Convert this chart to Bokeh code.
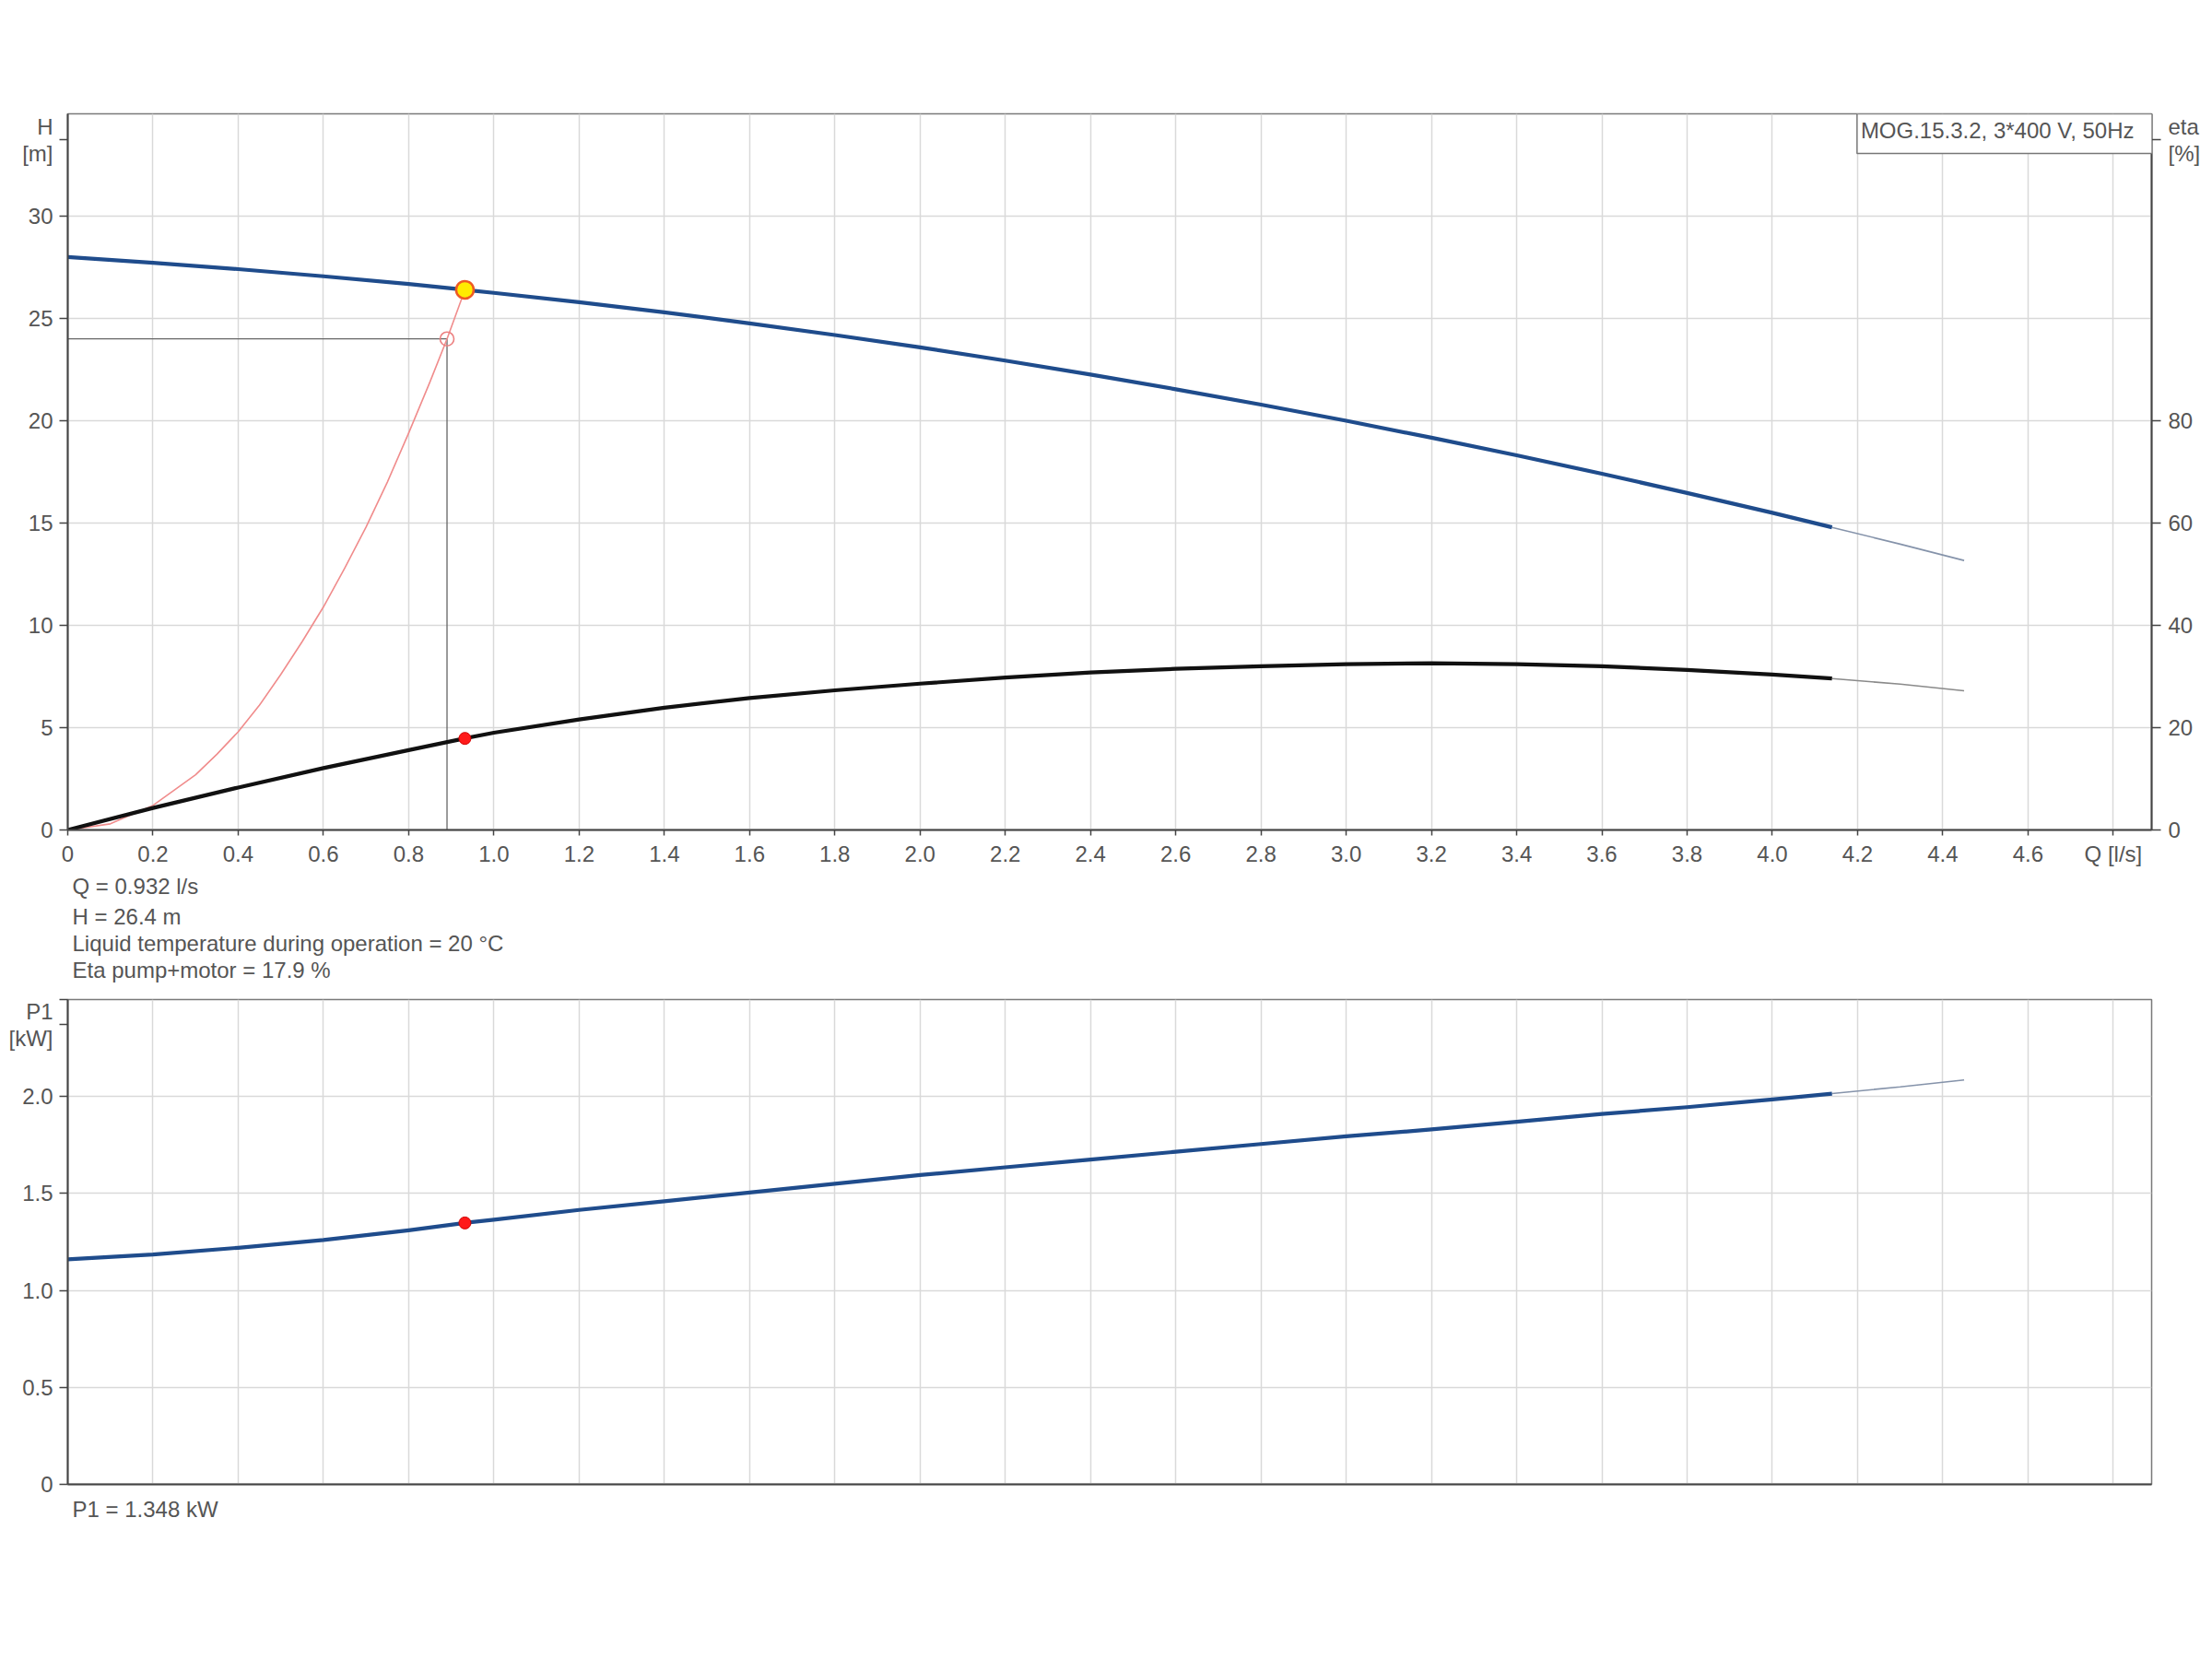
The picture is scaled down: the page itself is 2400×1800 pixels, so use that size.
from bokeh.plotting import figure
from bokeh.models import Range1d, LinearAxis, FixedTicker, Label, Title
from bokeh.layouts import column
from bokeh.embed import file_html
from bokeh.resources import INLINE

# ---------------- data ----------------
q_ticks = [0, 0.2, 0.4, 0.6, 0.8, 1.0, 1.2, 1.4, 1.6, 1.8, 2.0, 2.2, 2.4, 2.6,
           2.8, 3.0, 3.2, 3.4, 3.6, 3.8, 4.0, 4.2, 4.4, 4.6, 4.8]
q_tick_labels = ["0", "0.2", "0.4", "0.6", "0.8", "1.0", "1.2", "1.4", "1.6", "1.8",
                 "2.0", "2.2", "2.4", "2.6", "2.8", "3.0", "3.2", "3.4", "3.6", "3.8",
                 "4.0", "4.2", "4.4", "4.6", "Q [l/s]"]
h_ticks = [0, 5, 10, 15, 20, 25, 30]
h_axis_ticks = [0, 5, 10, 15, 20, 25, 30, 33.72]
h_axis_labels = ["0", "5", "10", "15", "20", "25", "30", "H\n[m]"]
eta_ticks = [0, 20, 40, 60, 80, 134.9]
eta_labels = ["0", "20", "40", "60", "80", "eta\n[%]"]
p1_grid_ticks = [0, 0.5, 1.0, 1.5, 2.0]
p1_ticks = [0, 0.5, 1.0, 1.5, 2.0, 2.37, 2.5]
p1_tick_labels = ["0", "0.5", "1.0", "1.5", "2.0", "P1\n[kW]", ""]

# pump curve (Q in l/s), valid range
q_curve = [0, 0.2, 0.4, 0.6, 0.8, 0.932, 1.0, 1.2, 1.4, 1.6, 1.8, 2.0, 2.2, 2.4,
           2.6, 2.8, 3.0, 3.2, 3.4, 3.6, 3.8, 4.0, 4.14]
h_curve = [28.0, 27.72, 27.41, 27.06, 26.68, 26.4, 26.25, 25.79, 25.3, 24.76, 24.19,
           23.59, 22.94, 22.26, 21.54, 20.79, 20.0, 19.17, 18.31, 17.41, 16.47, 15.5, 14.79]
eta_curve = [0, 4.3, 8.3, 12.1, 15.6, 17.9, 19.0, 21.6, 23.9, 25.8, 27.3, 28.6, 29.8,
             30.8, 31.5, 32.0, 32.4, 32.6, 32.4, 32.0, 31.3, 30.4, 29.6]
p1_curve = [1.16, 1.185, 1.22, 1.26, 1.31, 1.348, 1.365, 1.415, 1.46, 1.505, 1.55,
            1.595, 1.635, 1.675, 1.715, 1.755, 1.795, 1.83, 1.87, 1.91, 1.945, 1.985, 2.015]

# extrapolated part (thin lines)
q_ext = [4.14, 4.3, 4.45]
h_ext = [14.79, 13.97, 13.17]
eta_ext = [29.6, 28.5, 27.2]
p1_ext = [2.015, 2.05, 2.085]

# system curve
q_sys = [0, 0.1, 0.2, 0.3, 0.35, 0.4, 0.45, 0.5, 0.55, 0.6, 0.65, 0.7, 0.75, 0.8,
         0.85, 0.89, 0.932]
h_sys = [0, 0.3, 1.2, 2.7, 3.7, 4.8, 6.1, 7.6, 9.2, 10.9, 12.8, 14.8, 17.0, 19.4,
         21.9, 24.0, 26.4]

# operating / requested points
q_op, h_op, eta_op, p1_op = 0.932, 26.4, 17.9, 1.348
q_req, h_req = 0.89, 24.0

title_text = "MOG.15.3.2, 3*400 V, 50Hz"
info_lines = ["Q = 0.932 l/s", "H = 26.4 m",
              "Liquid temperature during operation = 20 \u00b0C",
              "Eta pump+motor = 17.9 %"]
p1_info = "P1 = 1.348 kW"

# ---------------- style ----------------
FONT = "Liberation Sans"
TXT = "#555555"
FS = "24px"
BLUE = "#1f4c8c"
GRID = "#d9d9d9"
AX = "#444444"

X_MAX = 4.89


def style_common(p):
    p.background_fill_color = "white"
    p.border_fill_color = "white"
    p.outline_line_color = "#7a7a7a"
    p.outline_line_width = 1.5
    p.xgrid.ticker = FixedTicker(ticks=q_ticks)
    p.xgrid.grid_line_color = GRID
    p.xgrid.grid_line_width = 1.5
    p.ygrid.grid_line_color = GRID
    p.ygrid.grid_line_width = 1.5


def style_axis(ax):
    ax.axis_line_color = AX
    ax.axis_line_width = 2
    ax.major_tick_line_color = AX
    ax.major_tick_line_width = 1.5
    ax.minor_tick_line_color = None
    ax.major_label_text_font = FONT
    ax.major_label_text_font_size = FS
    ax.major_label_text_color = TXT
    ax.major_label_text_line_height = 1.08


def title(text, standoff):
    return Title(text=text, align="left", offset=5, standoff=standoff,
                 text_font=FONT, text_font_size=FS, text_color=TXT,
                 text_font_style="normal")


# ---------------- top figure ----------------
p = figure(width=2390, height=1078, output_backend="svg", toolbar_location=None,
           x_range=Range1d(0, X_MAX), y_range=Range1d(0, 35),
           min_border_left=73, min_border_right=50, min_border_top=123,
           min_border_bottom=178)
p.extra_y_ranges = {"eta": Range1d(0, 140)}
style_common(p)
p.ygrid.ticker = FixedTicker(ticks=h_ticks)

p.xaxis.ticker = FixedTicker(ticks=q_ticks)
p.xaxis.major_label_overrides = {v: s for v, s in zip(q_ticks, q_tick_labels)}
p.xaxis.major_tick_out = 6
p.xaxis.major_tick_in = 0
p.xaxis.major_label_standoff = 6
style_axis(p.xaxis[0])

p.yaxis.ticker = FixedTicker(ticks=h_axis_ticks)
p.yaxis.major_label_overrides = {v: s for v, s in zip(h_axis_ticks, h_axis_labels)}
p.yaxis.major_tick_out = 9
p.yaxis.major_tick_in = 0
p.yaxis.major_label_standoff = 7
style_axis(p.yaxis[0])

eta_axis = LinearAxis(y_range_name="eta", ticker=FixedTicker(ticks=eta_ticks),
                      major_label_overrides={v: s for v, s in zip(eta_ticks, eta_labels)})
style_axis(eta_axis)
eta_axis.major_tick_out = 10
eta_axis.major_tick_in = 0
eta_axis.major_label_standoff = 8
p.add_layout(eta_axis, "right")

# operating lines
p.line([0, q_req, q_req], [h_req, h_req, 0], line_color="#666666", line_width=1.3)
# system curve
p.line(q_sys, h_sys, line_color="#f08c8c", line_width=1.6, line_join="round")
# extensions
p.line(q_ext, h_ext, line_color="#8593aa", line_width=1.6)
p.line(q_ext, eta_ext, y_range_name="eta", line_color="#8a8a8a", line_width=1.6)
# main curves
p.line(q_curve, h_curve, line_color=BLUE, line_width=4.2, line_join="round")
p.line(q_curve, eta_curve, y_range_name="eta", line_color="#111111", line_width=4.2,
       line_join="round")
# points
p.scatter([q_req], [h_req], size=15, fill_color=None, line_color="#ec8080", line_width=1.6)
p.scatter([q_op], [h_op], size=19, fill_color="#ffec00", line_color="#ee5a24", line_width=2.5)
p.scatter([q_op], [eta_op], y_range_name="eta", size=13, fill_color="#ff1a1a",
          line_color="#d00000", line_width=1)

for i, t in enumerate(info_lines):
    p.add_layout(title(t, 7 if i == 0 else 0), "below")

p.add_layout(Label(x=2266, y=777, x_units="screen", y_units="screen", text=title_text,
                   anchor="top_right", padding=(4, 24, 4, 12),
                   text_font=FONT, text_font_size=FS, text_color=TXT,
                   background_fill_color="white", border_line_color="#777777",
                   border_line_width=1.5))

# ---------------- bottom figure ----------------
p2 = figure(width=2390, height=612, output_backend="svg", toolbar_location=None,
            x_range=p.x_range, y_range=Range1d(0, 2.5),
            min_border_left=73, min_border_right=50, min_border_top=6,
            min_border_bottom=80)
style_common(p2)
p2.ygrid.ticker = FixedTicker(ticks=p1_grid_ticks)
p2.yaxis.ticker = FixedTicker(ticks=p1_ticks)
p2.yaxis.major_label_overrides = {v: s for v, s in zip(p1_ticks, p1_tick_labels)}
p2.yaxis.major_tick_out = 9
p2.yaxis.major_tick_in = 0
p2.yaxis.major_label_standoff = 7
style_axis(p2.yaxis[0])
p2.xaxis.ticker = FixedTicker(ticks=q_ticks)
style_axis(p2.xaxis[0])
p2.xaxis.major_tick_line_color = None
p2.xaxis.major_tick_out = 0
p2.xaxis.major_label_standoff = 0
p2.xaxis.major_label_text_font_size = "0px"

p2.line(q_ext, p1_ext, line_color="#8593aa", line_width=1.6)
p2.line(q_curve, p1_curve, line_color=BLUE, line_width=4.2, line_join="round")
p2.scatter([q_op], [p1_op], size=13, fill_color="#ff1a1a", line_color="#d00000", line_width=1)

p2.add_layout(title(p1_info, 23), "below")

layout = column(p, p2, spacing=0)
open("out.html", "w").write(file_html(layout, INLINE))
